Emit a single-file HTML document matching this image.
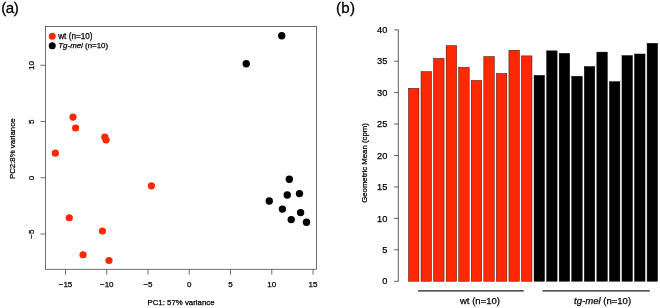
<!DOCTYPE html>
<html><head><meta charset="utf-8"><title>Figure</title>
<style>
html,body{margin:0;padding:0;background:#fff;}
body{width:660px;height:308px;overflow:hidden;}
svg{display:block;}
text{font-family:"Liberation Sans",sans-serif;fill:#000;stroke:#000;stroke-width:0.25px;}
.ax{stroke:#333;stroke-width:0.7;fill:none;}
.tk{font-size:7.85px;}
.tl{font-size:8px;}
.bt{font-size:9.25px;}
</style></head><body>
<svg width="660" height="308" viewBox="0 0 660 308">
<rect width="660" height="308" fill="#fff"/>

<text x="1.3" y="13.45" font-size="15.1" style="stroke-width:0.3px;letter-spacing:-0.5px">(a)</text>
<text x="336.1" y="13.45" font-size="15.1" style="stroke-width:0.3px;letter-spacing:0.2px">(b)</text>
<rect class="ax" x="45.4" y="26.55" width="271.1" height="242.7"/>
<line class="ax" x1="65.5" y1="269.25" x2="65.5" y2="274.6"/>
<text class="tl" x="65.5" y="286.75" text-anchor="middle">−15</text>
<line class="ax" x1="106.75" y1="269.25" x2="106.75" y2="274.6"/>
<text class="tl" x="106.75" y="286.75" text-anchor="middle">−10</text>
<line class="ax" x1="148.0" y1="269.25" x2="148.0" y2="274.6"/>
<text class="tl" x="148.0" y="286.75" text-anchor="middle">−5</text>
<line class="ax" x1="189.25" y1="269.25" x2="189.25" y2="274.6"/>
<text class="tl" x="189.25" y="286.75" text-anchor="middle">0</text>
<line class="ax" x1="230.5" y1="269.25" x2="230.5" y2="274.6"/>
<text class="tl" x="230.5" y="286.75" text-anchor="middle">5</text>
<line class="ax" x1="271.75" y1="269.25" x2="271.75" y2="274.6"/>
<text class="tl" x="271.75" y="286.75" text-anchor="middle">10</text>
<line class="ax" x1="313.0" y1="269.25" x2="313.0" y2="274.6"/>
<text class="tl" x="313.0" y="286.75" text-anchor="middle">15</text>
<line class="ax" x1="40.4" y1="234.0" x2="45.4" y2="234.0"/>
<text class="tl" transform="translate(33.8,234.2) rotate(-90)" text-anchor="middle">−5</text>
<line class="ax" x1="40.4" y1="177.75" x2="45.4" y2="177.75"/>
<text class="tl" transform="translate(33.8,177.95) rotate(-90)" text-anchor="middle">0</text>
<line class="ax" x1="40.4" y1="121.5" x2="45.4" y2="121.5"/>
<text class="tl" transform="translate(33.8,121.7) rotate(-90)" text-anchor="middle">5</text>
<line class="ax" x1="40.4" y1="65.25" x2="45.4" y2="65.25"/>
<text class="tl" transform="translate(33.8,65.45) rotate(-90)" text-anchor="middle">10</text>
<text class="tk" x="181" y="305.35" text-anchor="middle">PC1: 57% variance</text>
<text class="tk" transform="translate(14.7,148.8) rotate(-90)" text-anchor="middle">PC2:8% variance</text>
<circle cx="73.0" cy="117.1" r="3.6" fill="#ff2800"/>
<circle cx="75.6" cy="128.0" r="3.6" fill="#ff2800"/>
<circle cx="104.85" cy="137.2" r="3.6" fill="#ff2800"/>
<circle cx="106.1" cy="140.0" r="3.6" fill="#ff2800"/>
<circle cx="55.3" cy="153.15" r="3.6" fill="#ff2800"/>
<circle cx="151.4" cy="185.8" r="3.6" fill="#ff2800"/>
<circle cx="69.25" cy="217.75" r="3.6" fill="#ff2800"/>
<circle cx="102.45" cy="231.0" r="3.6" fill="#ff2800"/>
<circle cx="83" cy="254.75" r="3.6" fill="#ff2800"/>
<circle cx="109" cy="260.5" r="3.6" fill="#ff2800"/>
<circle cx="281.75" cy="35.75" r="3.7" fill="#000"/>
<circle cx="246.25" cy="63.75" r="3.7" fill="#000"/>
<circle cx="289.3" cy="179.25" r="3.7" fill="#000"/>
<circle cx="287.25" cy="195.0" r="3.7" fill="#000"/>
<circle cx="299.5" cy="193.6" r="3.7" fill="#000"/>
<circle cx="269.25" cy="201.0" r="3.7" fill="#000"/>
<circle cx="282.4" cy="209.1" r="3.7" fill="#000"/>
<circle cx="300.6" cy="212.6" r="3.7" fill="#000"/>
<circle cx="291.25" cy="219.6" r="3.7" fill="#000"/>
<circle cx="306.5" cy="222.25" r="3.7" fill="#000"/>
<circle cx="52.25" cy="36.2" r="3.5" fill="#ff2800"/>
<circle cx="52.25" cy="45.65" r="3.5" fill="#000"/>
<text x="58.2" y="38.7" font-size="8.2">wt (n=10)</text>
<text x="58.3" y="48.2" font-size="7.9"><tspan font-style="italic">Tg-mel</tspan> (n=10)</text>
<path class="ax" style="stroke:#2a2a2a;stroke-width:0.75" d="M394.2 29.85H398.3V281.3H394.2"/>
<text class="bt" x="387.4" y="284.40" text-anchor="end">0</text>
<line class="ax" style="stroke:#2a2a2a;stroke-width:0.75" x1="394.2" y1="249.81" x2="398.3" y2="249.81"/>
<text class="bt" x="387.4" y="252.96" text-anchor="end">5</text>
<line class="ax" style="stroke:#2a2a2a;stroke-width:0.75" x1="394.2" y1="218.38" x2="398.3" y2="218.38"/>
<text class="bt" x="387.4" y="221.53" text-anchor="end">10</text>
<line class="ax" style="stroke:#2a2a2a;stroke-width:0.75" x1="394.2" y1="186.94" x2="398.3" y2="186.94"/>
<text class="bt" x="387.4" y="190.09" text-anchor="end">15</text>
<line class="ax" style="stroke:#2a2a2a;stroke-width:0.75" x1="394.2" y1="155.50" x2="398.3" y2="155.50"/>
<text class="bt" x="387.4" y="158.65" text-anchor="end">20</text>
<line class="ax" style="stroke:#2a2a2a;stroke-width:0.75" x1="394.2" y1="124.06" x2="398.3" y2="124.06"/>
<text class="bt" x="387.4" y="127.21" text-anchor="end">25</text>
<line class="ax" style="stroke:#2a2a2a;stroke-width:0.75" x1="394.2" y1="92.62" x2="398.3" y2="92.62"/>
<text class="bt" x="387.4" y="95.78" text-anchor="end">30</text>
<line class="ax" style="stroke:#2a2a2a;stroke-width:0.75" x1="394.2" y1="61.19" x2="398.3" y2="61.19"/>
<text class="bt" x="387.4" y="64.34" text-anchor="end">35</text>
<text class="bt" x="387.4" y="32.90" text-anchor="end">40</text>
<text class="tk" transform="translate(367.3,163) rotate(-90)" text-anchor="middle" style="font-size:7.8px">Geometric Mean (cpm)</text>
<rect x="408.45" y="88.32" width="10.5" height="192.93" fill="#ff2800" stroke="#2a0400" stroke-width="0.45"/>
<rect x="421.01" y="71.60" width="10.5" height="209.65" fill="#ff2800" stroke="#2a0400" stroke-width="0.45"/>
<rect x="433.57" y="58.39" width="10.5" height="222.86" fill="#ff2800" stroke="#2a0400" stroke-width="0.45"/>
<rect x="446.13" y="45.63" width="10.5" height="235.62" fill="#ff2800" stroke="#2a0400" stroke-width="0.45"/>
<rect x="458.69" y="67.32" width="10.5" height="213.93" fill="#ff2800" stroke="#2a0400" stroke-width="0.45"/>
<rect x="471.25" y="80.40" width="10.5" height="200.85" fill="#ff2800" stroke="#2a0400" stroke-width="0.45"/>
<rect x="483.81" y="56.51" width="10.5" height="224.74" fill="#ff2800" stroke="#2a0400" stroke-width="0.45"/>
<rect x="496.37" y="73.48" width="10.5" height="207.77" fill="#ff2800" stroke="#2a0400" stroke-width="0.45"/>
<rect x="508.93" y="50.22" width="10.5" height="231.03" fill="#ff2800" stroke="#2a0400" stroke-width="0.45"/>
<rect x="521.49" y="55.88" width="10.5" height="225.37" fill="#ff2800" stroke="#2a0400" stroke-width="0.45"/>
<rect x="534.05" y="75.37" width="10.5" height="205.88" fill="#000" stroke="#000" stroke-width="0.45"/>
<rect x="546.61" y="50.85" width="10.5" height="230.40" fill="#000" stroke="#000" stroke-width="0.45"/>
<rect x="559.17" y="53.36" width="10.5" height="227.89" fill="#000" stroke="#000" stroke-width="0.45"/>
<rect x="571.73" y="76.31" width="10.5" height="204.94" fill="#000" stroke="#000" stroke-width="0.45"/>
<rect x="584.29" y="66.57" width="10.5" height="214.68" fill="#000" stroke="#000" stroke-width="0.45"/>
<rect x="596.85" y="52.11" width="10.5" height="229.14" fill="#000" stroke="#000" stroke-width="0.45"/>
<rect x="609.41" y="81.66" width="10.5" height="199.59" fill="#000" stroke="#000" stroke-width="0.45"/>
<rect x="621.97" y="55.56" width="10.5" height="225.69" fill="#000" stroke="#000" stroke-width="0.45"/>
<rect x="634.53" y="53.99" width="10.5" height="227.26" fill="#000" stroke="#000" stroke-width="0.45"/>
<rect x="647.09" y="43.30" width="10.5" height="237.95" fill="#000" stroke="#000" stroke-width="0.45"/>
<line x1="418" y1="290.9" x2="523.7" y2="290.9" stroke="#1a1a1a" stroke-width="1.15"/>
<line x1="542.5" y1="290.9" x2="649.8" y2="290.9" stroke="#1a1a1a" stroke-width="1.15"/>
<text x="480" y="303.8" font-size="9.55" text-anchor="middle">wt (n=10)</text>
<text x="602.6" y="303.8" font-size="9.55" text-anchor="middle"><tspan font-style="italic">tg-mel</tspan> (n=10)</text>
</svg></body></html>
